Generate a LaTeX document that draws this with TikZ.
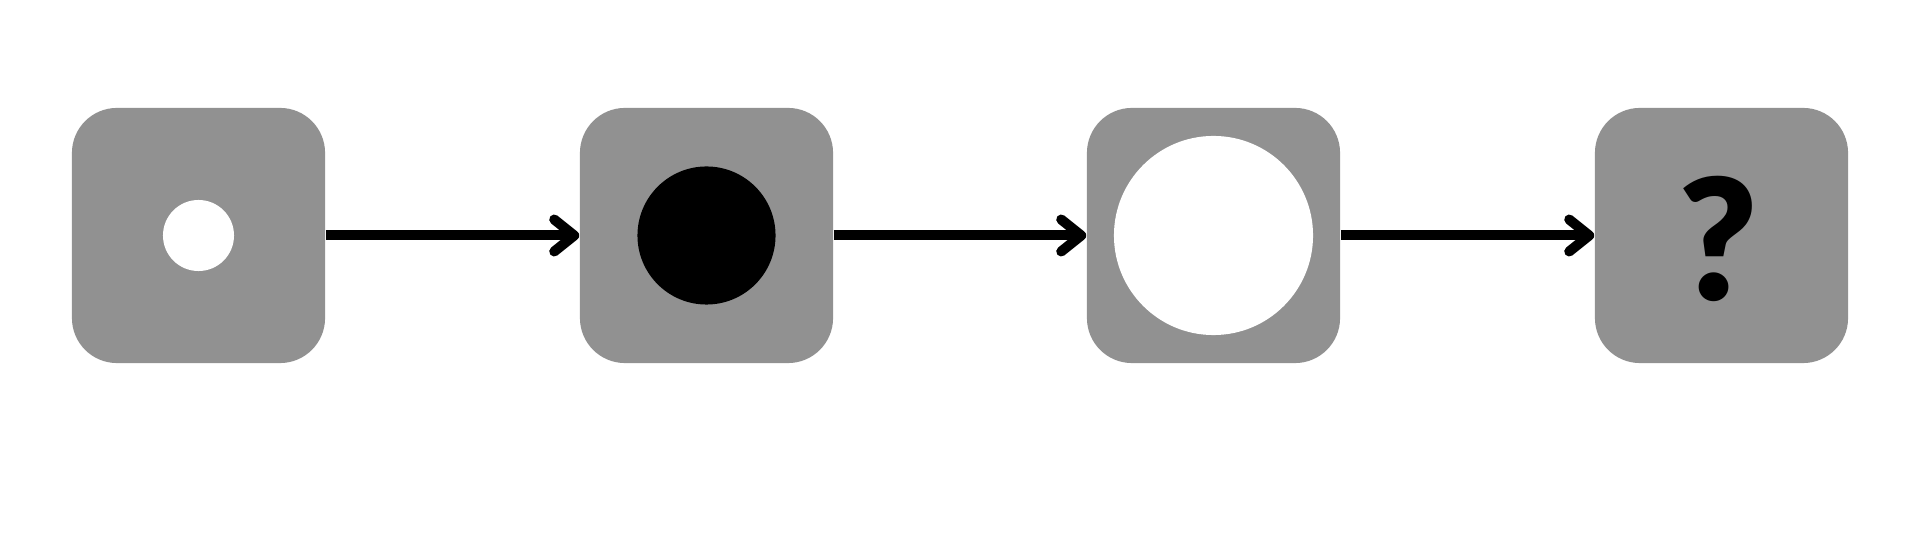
\documentclass[tikz,border=0pt]{standalone}
\usepackage{fontspec}
\newfontfamily\qfont{Lato Black}
\usetikzlibrary{arrows.meta}
\definecolor{boxgray}{RGB}{145,145,145}

\begin{document}
\begin{tikzpicture}[x=0.01cm,y=-0.01cm]
    \tikzset{box/.style={fill=boxgray,rounded corners=0.45cm,minimum width=2.53cm,minimum height=2.55cm,inner sep=0pt}}
    \tikzset{dot/.style={circle,inner sep=0pt}}
    \tikzset{edge/.style={line width=0.1cm,-{Straight Barb[length=0.2cm,width=0.32cm,round]}}}

    \useasboundingbox (0,0) rectangle (1920,540);

    \node[box] (b1) at (198.5,235.5) {};
    \node[box] (b2) at (706.5,235.5) {};
    \node[box] (b3) at (1213.5,235.5) {};
    \node[box] (b4) at (1721.5,235.5) {};

    \node[dot,fill=white,minimum size=0.71cm] (c1) at (b1) {};
    \node[dot,fill=black,minimum size=1.38cm] (c2) at (b2) {};
    \node[dot,fill=white,minimum size=1.99cm] (c3) at (b3) {};
    \node[font=\qfont\fontsize{48}{48}\selectfont,inner sep=0pt] (q) at (1718,239) {?};

    \begin{scope}
       \draw[edge] (b1) -- (b2);
       \draw[edge] (b2) -- (b3);
       \draw[edge] (b3) -- (b4);
    \end{scope}
\end{tikzpicture}
\end{document}
